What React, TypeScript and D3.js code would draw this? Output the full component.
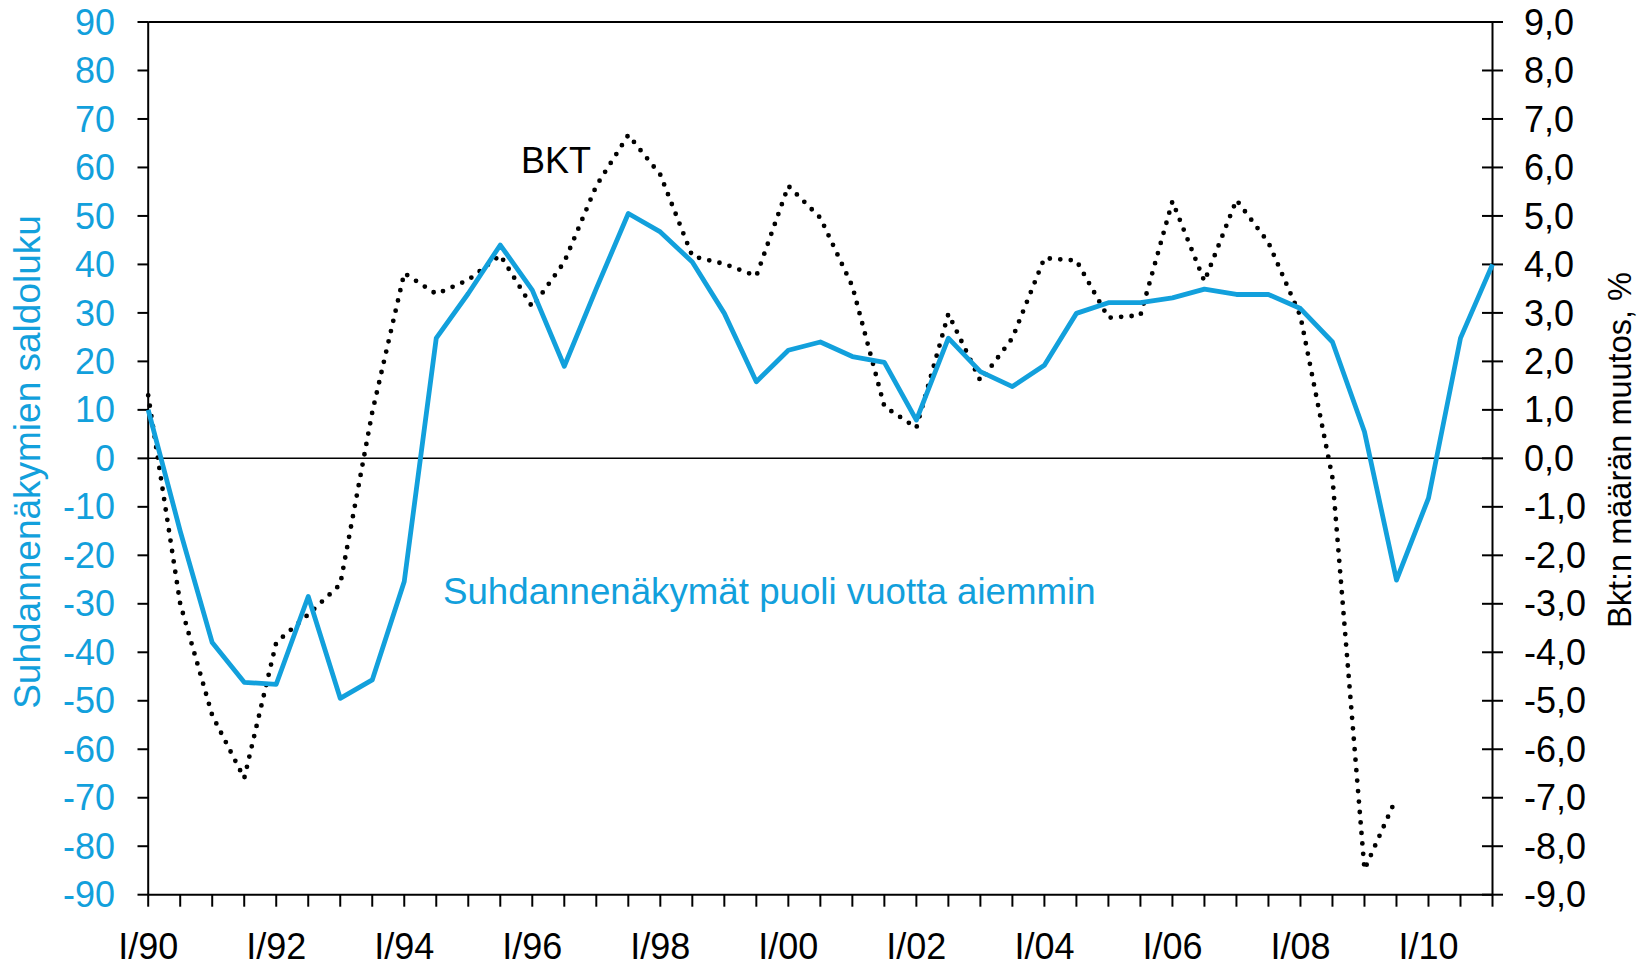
import React from "react";
import * as d3 from "d3";

// Half-year index 0 = I/1990 ... 42 = I/2011
const sentimentValues: number[] = [
  10, -15, -38, -46.2, -46.6, -28.5, -49.5, -45.7, -25.4, 24.8,
  34, 44, 34.7, 19, 35, 50.5, 46.7, 40.5, 29.9, 15.8,
  22.3, 24, 21, 19.8, 7.9, 24.8, 17.9, 14.8, 19.2, 29.9,
  32.1, 32.1, 33.1, 34.9, 33.8, 33.8, 30.9, 24, 5.5, -25.1,
  -8.2, 24.8, 40,
];
const gdpValues: number[] = [
  1.3, -3.0, -5.3, -6.6, -3.8, -3.22, -2.6, 0.95, 3.82, 3.39,
  3.68, 4.19, 3.12, 4.05, 5.62, 6.67, 5.85, 4.17, 4.01, 3.76,
  5.62, 4.96, 3.55, 1.07, 0.63, 2.98, 1.6, 2.48, 4.13, 4.08,
  2.9, 2.95, 5.3, 3.65, 5.33, 4.45, 2.93, -0.4, -8.48, -7.0,
];
const leftTicks: number[] = d3.range(-90, 91, 10);
const rightTicks: number[] = d3.range(-9, 9.01, 1);
const xLabelYears: number[] = [1990, 1992, 1994, 1996, 1998, 2000, 2002, 2004, 2006, 2008, 2010];
const halfYearTicks: number[] = d3.range(0, 43, 1);

const leftTitle = "Suhdannenäkymien saldoluku";
const rightTitle = "Bkt:n määrän muutos, %";
const gdpLabel = "BKT";
const sentimentLabel = "Suhdannenäkymät puoli vuotta aiemmin";

const BLUE = "#12A0DC";
const FONT = "'Liberation Sans', Arial, sans-serif";

export default function App() {
  const W = 1647;
  const H = 967;
  const left = 148.2;
  const right = 1492.5;
  const top = 22;
  const bottom = 894.7;

  const x = d3.scaleLinear().domain([0, 42]).range([left, right]);
  const yL = d3.scaleLinear().domain([-90, 90]).range([bottom, top]);
  const yR = d3.scaleLinear().domain([-9, 9]).range([bottom, top]);

  const blueLine = d3
    .line<number>()
    .x((_, i) => x(i))
    .y((d) => yL(d))(sentimentValues) as string;
  const gdpLine = d3
    .line<number>()
    .x((_, i) => x(i))
    .y((d) => yR(d))(gdpValues) as string;

  const fmtR = (v: number) => d3.format(".1f")(v).replace(".", ",").replace("\u2212", "-");
  const fmtL = (v: number) => d3.format("d")(v).replace("\u2212", "-");

  return (
    <svg
      width={W}
      height={H}
      style={{ position: "absolute", left: 0, top: 0, background: "#fff" }}
      fontFamily={FONT}
    >
      {/* frame */}
      <line x1={left} x2={right} y1={top} y2={top} stroke="#000" strokeWidth={2} />
      <line x1={left} x2={left} y1={top} y2={bottom} stroke="#000" strokeWidth={2} />
      <line x1={right} x2={right} y1={top} y2={bottom} stroke="#000" strokeWidth={2} />
      <line x1={left} x2={right} y1={bottom} y2={bottom} stroke="#000" strokeWidth={2} />
      {/* zero line */}
      <line x1={left} x2={right} y1={yL(0)} y2={yL(0)} stroke="#000" strokeWidth={1.5} />

      {/* left ticks & labels */}
      {leftTicks.map((t) => (
        <g key={"l" + t}>
          <line x1={137.5} x2={left} y1={yL(t)} y2={yL(t)} stroke="#000" strokeWidth={2} />
          <text x={115} y={yL(t)} dy="0.35em" textAnchor="end" fontSize={36} fill={BLUE}>
            {fmtL(t)}
          </text>
        </g>
      ))}
      {/* right ticks & labels */}
      {rightTicks.map((t) => (
        <g key={"r" + t}>
          <line x1={1482} x2={1503} y1={yR(t)} y2={yR(t)} stroke="#000" strokeWidth={2} />
          <text x={1524} y={yR(t)} dy="0.35em" textAnchor="start" fontSize={36} fill="#000">
            {fmtR(t)}
          </text>
        </g>
      ))}
      {/* x ticks */}
      {halfYearTicks.map((t) => (
        <line key={"x" + t} x1={x(t)} x2={x(t)} y1={bottom} y2={906.7} stroke="#000" strokeWidth={2} />
      ))}
      {xLabelYears.map((yr) => (
        <text
          key={"xl" + yr}
          x={x((yr - 1990) * 2)}
          y={959}
          textAnchor="middle"
          fontSize={36}
          fill="#000"
        >
          {"I/" + String(yr).slice(2)}
        </text>
      ))}

      {/* series */}
      <path d={gdpLine} fill="none" stroke="#000" strokeWidth={4.8} strokeDasharray="0 10.5" strokeLinecap="round" strokeLinejoin="round" />
      <path d={blueLine} fill="none" stroke={BLUE} strokeWidth={4.8} strokeLinejoin="round" />

      {/* annotations */}
      <text x={521} y={173} fontSize={36} fill="#000">{gdpLabel}</text>
      <text x={443} y={604} fontSize={36.7} fill={BLUE}>{sentimentLabel}</text>

      {/* axis titles */}
      <text transform="translate(39.5,462) rotate(-90)" textAnchor="middle" fontSize={37} fill={BLUE}>
        {leftTitle}
      </text>
      <text transform="translate(1631,450) rotate(-90)" textAnchor="middle" fontSize={32.5} fill="#000">
        {rightTitle}
      </text>
    </svg>
  );
}
